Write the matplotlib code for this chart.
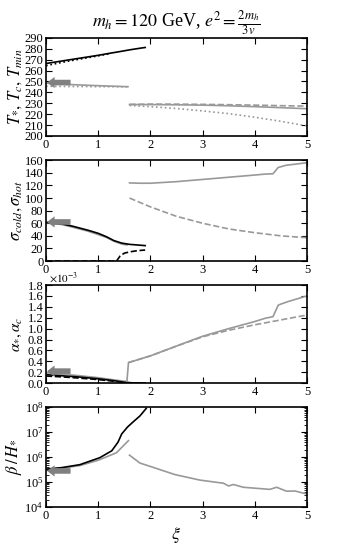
import matplotlib
matplotlib.use("Agg")
import matplotlib.pyplot as plt
from matplotlib.ticker import LogLocator, NullFormatter
import numpy as np

plt.rcParams['font.family'] = ['Liberation Serif', 'DejaVu Serif']
plt.rcParams['mathtext.fontset'] = 'stix'
plt.rcParams['font.size'] = 9

# ---------------- data ----------------
# Panel 1: temperatures
xT_b = [0, 0.2, 0.4, 0.6, 0.8, 1.0, 1.2, 1.4, 1.6, 1.8, 1.9]
T_star_b = [266.5, 268, 269.5, 271, 272.5, 274, 275.7, 277.3, 279, 280.5, 281.2]
xTmin_b = [0, 0.2, 0.4, 0.6, 0.8, 1.0, 1.2]
Tmin_b = [264.5, 266.5, 268.4, 270.1, 271.8, 273.5, 275.3]
xT_g1 = [0, 0.4, 0.8, 1.2, 1.57]
T_star_g1 = [248.5, 247.3, 246.5, 245.8, 245.2]
Tmin_g1 = [245.6, 245.4, 245.3, 245.2, 245.1]
xT_g2 = [1.6, 2.0, 2.5, 3.0, 3.5, 4.0, 4.5, 5.0]
T_star_g2 = [228.8, 228.8, 228.6, 228.3, 227.7, 226.9, 226.0, 225.0]
Tc_g2 = [229.0, 229.2, 229.2, 229.0, 228.7, 228.3, 227.8, 227.4]
Tmin_g2 = [228.0, 226.9, 225.2, 223.0, 220.5, 217.2, 213.5, 209.2]
T_arrow = 249.0

# Panel 2: sigma
xS_b = [0, 0.3, 0.5, 0.8, 1.0, 1.16, 1.3, 1.45, 1.6, 1.75, 1.9]
sig_cold_b = [61.5, 59, 55.5, 49, 44, 38.5, 32.5, 28.5, 26.5, 25.5, 24.5]
xS_bh = [0, 0.5, 1.0, 1.35, 1.42, 1.5, 1.6, 1.75, 1.9]
sig_hot_b = [0, 0, 0, 0, 8, 12.5, 14.5, 16.5, 17.5]
xS_g1 = [0, 0.3, 0.5, 0.8, 1.0, 1.16, 1.3, 1.45, 1.55]
sig_cold_g1 = [61, 58, 54, 47.5, 42, 37.5, 31.5, 27, 25.5]
xS_g2 = [1.6, 1.8, 2.0, 2.5, 3.0, 3.5, 4.0, 4.2, 4.35, 4.45, 4.6, 5.0]
sig_cold_g2 = [124, 123.5, 123.5, 126, 129.5, 133, 136.5, 138, 138.5, 148.5, 152, 156]
xS_g2h = [1.6, 2.0, 2.5, 3.0, 3.5, 4.0, 4.5, 5.0]
sig_hot_g2 = [100, 86, 71, 60, 51, 45, 40, 37]
sig_arrow = 62.0

# Panel 3: alpha (units 1e-3)
xA_b = [0, 0.3, 0.6, 1.0, 1.3, 1.5, 1.7, 1.9]
alpha_star_b = [0.155, 0.135, 0.115, 0.08, 0.045, 0.015, 0.003, 0.0]
alpha_c_b = [0.13, 0.115, 0.095, 0.065, 0.035, 0.01, 0.002, 0.0]
xA_g1 = [0, 0.3, 0.6, 1.0, 1.3, 1.55]
alpha_star_g1 = [0.19, 0.165, 0.14, 0.1, 0.06, 0.03]
xA_g2 = [1.55, 1.58, 2.0, 2.5, 3.0, 3.5, 4.0, 4.2, 4.35, 4.45, 4.5, 4.65, 5.0]
alpha_star_g2 = [0.03, 0.377, 0.5, 0.68, 0.86, 1.0, 1.13, 1.19, 1.22, 1.43, 1.45, 1.5, 1.6]
xA_g2c = [1.58, 2.0, 2.5, 3.0, 3.5, 4.0, 4.5, 5.0]
alpha_c_g2 = [0.377, 0.5, 0.68, 0.85, 0.97, 1.07, 1.16, 1.25]
alpha_arrow = 0.22

# Panel 4: beta/H
xB_b = [0, 0.3, 0.65, 1.03, 1.26, 1.38, 1.45, 1.56, 1.67, 1.8, 1.92]
beta_b = [3.3e5, 3.8e5, 5e5, 9.5e5, 1.8e6, 4e6, 8.5e6, 1.6e7, 2.6e7, 4.5e7, 9e7]
xB_g1 = [0, 0.3, 0.65, 1.0, 1.35, 1.58]
beta_g1 = [3.2e5, 3.6e5, 4.6e5, 7.5e5, 1.5e6, 4.6e6]
xB_g2 = [1.6, 1.8, 2.12, 2.47, 2.95, 3.4, 3.5, 3.59, 3.78, 4.29, 4.42, 4.61, 4.77, 5.0]
beta_g2 = [1.2e6, 5.8e5, 3.5e5, 2e5, 1.2e5, 9e4, 7e4, 8e4, 6.2e4, 5.1e4, 6.2e4, 4.3e4, 4.4e4, 3.3e4]
beta_arrow = 2.8e5

# ---------------- plotting ----------------
GRAY = '#999999'
AGRAY = '#808080'
fig = plt.figure(figsize=(3.41, 5.45), dpi=100)
L, W = 0.135, 0.765
ax1 = fig.add_axes([L, 0.7505, W, 0.180])
ax2 = fig.add_axes([L, 0.521, W, 0.185])
ax3 = fig.add_axes([L, 0.297, W, 0.180])
ax4 = fig.add_axes([L, 0.0697, W, 0.183])

def arrow(ax, y):
    ax.annotate('', xy=(0.02, y), xytext=(0.47, y),
                arrowprops=dict(arrowstyle='simple,head_length=0.6,head_width=0.9,tail_width=0.45',
                                color=AGRAY, lw=0, shrinkA=0, shrinkB=0))

lw = 1.2
ax1.plot(xT_b, T_star_b, color='k', lw=lw)
ax1.plot(xTmin_b, Tmin_b, color='k', lw=lw, ls=':')
ax1.plot(xT_g1, T_star_g1, color=GRAY, lw=lw)
ax1.plot(xT_g1, Tmin_g1, color=GRAY, lw=lw, ls=':')
ax1.plot(xT_g2, T_star_g2, color=GRAY, lw=lw)
ax1.plot(xT_g2, Tc_g2, color=GRAY, lw=lw, ls='--')
ax1.plot(xT_g2, Tmin_g2, color=GRAY, lw=lw, ls=':')
arrow(ax1, T_arrow)
ax1.set_ylim(200, 290)
ax1.set_yticks(np.arange(200, 291, 10))
ax1.set_ylabel(r'$T_{*},\, T_c,\, T_{min}$', fontsize=12)
ax1.set_title(r'$m_h = 120$ GeV, $e^2 = \frac{2m_h}{3v}$', fontsize=13, pad=5)

ax2.plot(xS_g1, sig_cold_g1, color=GRAY, lw=lw)
ax2.plot(xS_b, sig_cold_b, color='k', lw=lw)
ax2.plot(xS_bh, sig_hot_b, color='k', lw=lw, ls='--')
ax2.plot(xS_g2, sig_cold_g2, color=GRAY, lw=lw)
ax2.plot(xS_g2h, sig_hot_g2, color=GRAY, lw=lw, ls='--')
arrow(ax2, sig_arrow)
ax2.set_ylim(0, 160)
ax2.set_yticks(np.arange(0, 161, 20))
ax2.set_ylabel(r'$\sigma_{cold},\sigma_{hot}$', fontsize=12)

s = 1e-3
ax3.plot(xA_g1, np.array(alpha_star_g1) * s, color=GRAY, lw=lw)
ax3.plot(xA_b, np.array(alpha_star_b) * s, color='k', lw=lw)
ax3.plot(xA_b, np.array(alpha_c_b) * s, color='k', lw=lw, ls='--')
ax3.plot(xA_g2, np.array(alpha_star_g2) * s, color=GRAY, lw=lw)
ax3.plot(xA_g2c, np.array(alpha_c_g2) * s, color=GRAY, lw=lw, ls='--')
arrow(ax3, alpha_arrow * s)
ax3.set_ylim(0, 1.8e-3)
ax3.set_yticks(np.arange(0, 1.81e-3, 0.2e-3))
ax3.set_yticklabels(['%.1f' % (v / s) for v in np.arange(0, 1.81e-3, 0.2e-3)])
ax3.text(0.012, 1.003, r'$\times10^{-3}$', transform=ax3.transAxes, ha='left', va='bottom', fontsize=8)
ax3.set_ylabel(r'$\alpha_{*},\alpha_c$', fontsize=11)

ax4.plot(xB_g1, beta_g1, color=GRAY, lw=lw)
ax4.plot(xB_b, beta_b, color='k', lw=lw)
ax4.plot(xB_g2, beta_g2, color=GRAY, lw=lw)
ax4.set_yscale('log')
arrow(ax4, beta_arrow)
ax4.set_ylim(1e4, 1e8)
ax4.yaxis.set_major_locator(LogLocator(base=10, numticks=10))
ax4.yaxis.set_minor_locator(LogLocator(base=10, subs=np.arange(2, 10), numticks=20))
ax4.yaxis.set_minor_formatter(NullFormatter())
ax4.set_ylabel(r'$\beta\,/\,H_{*}$', fontsize=12)
ax4.set_xlabel(r'$\xi$', fontsize=13, labelpad=2)

for ax in (ax1, ax2, ax3, ax4):
    ax.set_xlim(0, 5)
    ax.set_xticks([0, 1, 2, 3, 4, 5])
    ax.tick_params(direction='in', top=True, right=True, length=4, width=0.8, labelsize=9, pad=2)
    ax.tick_params(which='minor', direction='in', top=True, right=True, length=2, width=0.6)
    for sp in ax.spines.values():
        sp.set_linewidth(1.2)
    ax.yaxis.set_label_coords(-0.085, 0.5)

fig.savefig('out.png', dpi=100)
